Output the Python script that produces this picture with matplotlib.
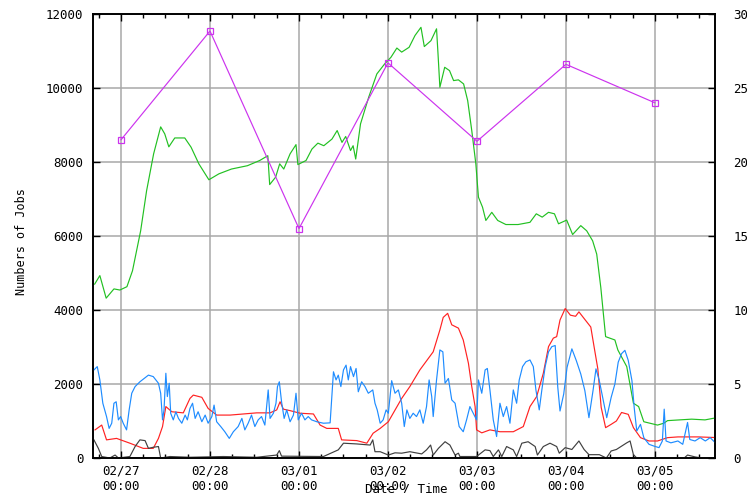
"""
Job counts over one week: four job-state series plus a daily total on a second axis.
"""
import matplotlib
matplotlib.use("Agg")
import matplotlib.pyplot as plt
from matplotlib.ticker import MultipleLocator

# hours since 02/27 00:00 and number of jobs
green_h = [-7.1, -5.7, -4.0, -1.9, -0.3, 1.6, 3.1, 5.3, 6.9, 8.8, 10.7, 11.8, 12.9, 14.5, 17.2,
           18.9, 21.0, 23.7, 26.4, 29.8, 34.1, 37.4, 39.6, 40.1, 41.7, 42.8, 43.9, 45.6, 47.2,
           47.7, 49.9, 51.5, 53.1, 54.7, 56.9, 58.3, 59.6, 60.6, 61.9, 62.6, 63.3, 64.6, 66.8,
           69.0, 71.1, 72.8, 74.4, 75.7, 77.7, 79.3, 80.9, 81.8, 83.6, 85.1, 85.5, 86.0, 87.3,
           88.6, 89.7, 91.0, 92.4, 93.5, 94.6, 95.7, 96.4, 97.5, 98.4, 100.0, 101.6, 103.8,
           107.1, 110.3, 112.0, 113.6, 115.3, 116.9, 118.0, 120.2, 121.8, 124.0, 125.6, 127.2,
           128.3, 129.4, 130.7, 133.2, 134.0, 136.4, 138.2, 139.6, 141.0, 144.7, 146.4, 147.4,
           153.9, 157.5, 161.2]
green_v = [4700, 4930, 4320, 4570, 4540, 4630, 5060, 6140, 7220, 8220, 8950, 8760, 8410, 8650, 8650,
           8400, 7950, 7520, 7680, 7810, 7900, 8040, 8170, 7390, 7590, 7950, 7810, 8220, 8470,
           7930, 8040, 8350, 8510, 8440, 8620, 8850, 8530, 8690, 8310, 8440, 8080, 9030, 9750,
           10380, 10650, 10830, 11080, 10970, 11100, 11420, 11640, 11120, 11280, 11600, 10920, 10020, 10560,
           10470, 10200, 10220, 10110, 9660, 8850, 7950, 7050, 6780, 6420, 6640, 6420, 6310,
           6310, 6370, 6600, 6510, 6640, 6600, 6330, 6430, 6040, 6280, 6140, 5870,
           5510, 4610, 3280, 3190, 2920, 2470, 1480, 1390, 980, 890, 940, 1010,
           1050, 1030, 1100]

red_h = [-7.0, -5.2, -3.9, -1.2, 2.4, 6.0, 8.7, 10.1, 11.2, 12.1, 13.7, 16.8, 18.6, 19.5, 21.8,
         23.5, 25.8, 29.4, 33.0, 36.6, 40.2, 42.0, 42.9, 43.8, 45.6, 48.3, 51.9, 53.7, 55.5,
         58.6, 59.5, 63.6, 66.3, 68.0, 69.9, 72.1, 75.7, 77.9, 80.6, 84.2, 86.0, 86.9, 88.1,
         89.2, 91.0, 92.3, 93.7, 94.6, 95.5, 95.9, 97.3, 99.5, 102.2, 105.8, 108.5, 110.3,
         112.1, 113.9, 115.3, 116.6, 117.5, 118.4, 119.8, 121.2, 122.6, 123.5, 124.9, 126.7,
         127.6, 128.6, 129.5, 130.7, 132.2, 133.6, 135.0, 136.8, 138.2, 140.1, 142.4, 144.7,
         147.4, 150.2, 155.7, 161.2]
red_v = [760, 890, 490, 530, 400, 260, 260, 530, 850, 1390, 1250, 1220, 1610, 1700, 1640,
         1340, 1160, 1160, 1190, 1220, 1220, 1300, 1520, 1320, 1280, 1210, 1190, 890, 800,
         800, 490, 470, 400, 670, 800, 980, 1610, 1930, 2380, 2870, 3460, 3800, 3910,
         3600, 3510, 3190, 2560, 1930, 1390, 760, 680, 760, 710, 710, 850, 1390,
         1660, 2290, 3010, 3240, 3280, 3730, 4040, 3860, 3830, 3950, 3770, 3540,
         3000, 2410, 1370, 820, 910, 1000, 1230, 1180, 820, 550, 460, 460,
         550, 570, 570, 550]

blue_h = [-7.3, -6.4, -5.7, -4.9, -3.9, -3.2, -2.5, -1.9, -1.3, -0.7, -0.1, 0.6, 1.5, 2.2, 2.9,
          3.8, 5.1, 7.4, 8.7, 10.1, 10.7, 11.2, 11.6, 12.1, 12.5, 13.0, 13.4, 14.1, 14.8, 15.5,
          16.4, 17.3, 17.9, 18.6, 19.3, 20.0, 20.8, 21.8, 22.7, 23.5, 24.5, 25.1, 25.8, 26.9,
          28.0, 29.2, 30.3, 31.6, 32.6, 33.4, 34.3, 35.2, 36.1, 37.0, 37.9, 38.8, 39.7, 40.2,
          41.1, 41.8, 42.2, 42.7, 43.3, 44.0, 44.7, 45.6, 46.5, 47.2, 47.8, 48.7, 49.6, 50.5,
          51.4, 52.8, 54.6, 56.4, 56.8, 57.3, 58.0, 58.6, 59.3, 60.0, 60.7, 61.3, 61.9, 62.7,
          63.4, 64.0, 64.9, 65.8, 66.7, 67.9, 68.5, 69.1, 69.9, 70.7, 71.5, 72.1, 73.0, 73.9,
          74.8, 75.7, 76.4, 77.1, 77.9, 78.8, 79.7, 80.6, 81.5, 82.4, 83.1, 83.8, 84.2, 85.1,
          86.0, 86.8, 87.4, 88.3, 89.2, 90.1, 91.2, 92.3, 93.2, 94.1, 95.0, 95.9, 96.4, 97.3,
          98.2, 98.8, 99.5, 100.4, 101.3, 102.2, 103.1, 104.0, 104.9, 105.8, 106.7, 107.4,
          108.3, 109.2, 110.3, 111.2, 111.9, 112.8, 113.5, 114.4, 115.3, 116.2, 117.1, 117.8,
          118.4, 119.4, 120.3, 121.6, 122.8, 124.0, 125.1, 126.2, 127.3, 128.1, 129.0, 129.9,
          131.0, 132.2, 133.2, 134.1, 135.0, 135.9, 136.8, 137.8, 138.4, 139.1, 140.1, 141.0,
          142.4, 143.8, 145.1, 146.0, 146.5, 147.0, 148.3, 150.2, 151.5, 152.8, 153.4, 154.8,
          156.2, 157.6, 158.9, 159.8, 160.7]
blue_v = [2380, 2470, 2110, 1480, 1120, 800, 940, 1480, 1520, 1030, 1120, 940, 760, 1300, 1750,
          1930, 2060, 2240, 2200, 2020, 1750, 1030, 1300, 2290, 1660, 2020, 1210, 1030, 1250, 1070,
          940, 1160, 1030, 1340, 1480, 1070, 1250, 980, 1160, 940, 1120, 1430, 980, 850,
          710, 530, 710, 850, 1070, 760, 940, 1160, 850, 1030, 1120, 890, 1840, 1070,
          1210, 1480, 1930, 2060, 1520, 1070, 1300, 980, 1160, 1750, 1030, 1210, 1030, 1120,
          1030, 980, 940, 950, 1570, 2330, 2110, 2240, 1930, 2380, 2510, 2110, 2470, 2200,
          2420, 1790, 2060, 1930, 1750, 1840, 1480, 1300, 940, 1030, 1300, 1210, 2090, 1750,
          1840, 1480, 850, 1300, 1070, 1210, 1120, 1300, 940, 1390, 2110, 1660, 1120, 2110,
          2920, 2870, 2020, 2150, 1570, 1480, 850, 710, 1030, 1390, 1210, 1030, 2110, 1750,
          2380, 2420, 1840, 1030, 580, 1480, 1120, 1390, 940, 1840, 1480, 2110,
          2470, 2600, 2650, 2470, 1840, 1300, 1840, 2470, 2870, 3010, 3040, 1910,
          1270, 1730, 2450, 2950, 2630, 2270, 1820, 1090, 1820, 2410, 2090, 1640,
          1090, 1640, 2000, 2590, 2820, 2910, 2640, 2090, 1370, 730, 910, 550,
          370, 320, 280, 460, 1320, 460, 410, 460, 370, 960, 500, 460,
          550, 460, 550, 460, 370]

black_h = [-7.3, -6.1, -5.2, -3.0, -1.6, -0.7, 2.4, 3.8, 5.1, 6.5, 7.4, 8.7, 10.1, 10.7, 13.2,
           18.6, 27.6, 36.6, 42.0, 42.7, 43.3, 54.6, 58.6, 60.0, 63.6, 67.2, 67.9, 68.5, 69.9,
           72.1, 73.9, 75.7, 77.9, 81.1, 82.4, 83.5, 84.2, 85.6, 87.4, 88.7, 90.1, 91.0, 91.4,
           95.9, 98.2, 99.5, 100.4, 101.8, 102.7, 104.0, 105.8, 106.7, 108.1, 109.8, 111.7,
           112.3, 113.9, 115.7, 117.5, 118.2, 119.8, 121.6, 123.5, 124.9, 126.2, 129.0, 130.9,
           132.2, 133.6, 136.4, 137.3, 138.2, 139.1, 151.9, 152.8, 154.8, 156.6, 161.2]
black_v = [490, 260, 40, 0, 80, 0, 40, 310, 490, 470, 260, 290, 310, 0, 40,
           20, 40, 20, 80, 200, 50, 40, 220, 400, 380, 350, 490, 170, 170,
           80, 140, 130, 170, 110, 220, 350, 80, 260, 440, 350, 80, 130, 40,
           40, 220, 200, 40, 220, 40, 310, 220, 40, 400, 440, 310,
           80, 310, 400, 310, 130, 280, 230, 460, 230, 90, 90, 0,
           190, 230, 410, 460, 90, 0, 0, 80, 30, 0, 0]

# daily points, right axis
daily_h = [0, 24, 48, 72, 96, 120, 144]
daily_v = [21.5, 28.85, 15.5, 26.7, 21.4, 26.6, 24.0]

day_labels = ["02/27\n00:00", "02/28\n00:00", "03/01\n00:00", "03/02\n00:00",
              "03/03\n00:00", "03/04\n00:00", "03/05\n00:00"]

plt.rcParams["font.family"] = ["DejaVu Sans Mono"]
plt.rcParams["font.size"] = 9

fig = plt.figure(figsize=(7.47, 4.93), dpi=100)
ax = fig.add_axes([93 / 747, 1 - 458 / 493, 622 / 747, 444 / 493])
ax2 = ax.twinx()

lw = 0.85
ax.plot(green_h, green_v, color="#22c022", lw=lw, zorder=3)
ax.plot(red_h, red_v, color="#ff2222", lw=lw, zorder=3)
ax.plot(blue_h, blue_v, color="#1e8cff", lw=lw, zorder=4)
ax.plot(black_h, black_v, color="#404040", lw=lw, zorder=3)
ax2.plot(daily_h, daily_v, color="#cc33ee", lw=lw, marker="s", ms=5,
         mfc="none", mec="#cc33ee", mew=0.9)

ax.set_xlim(-7.55, 160.2)
ax.set_ylim(0, 12000)
ax2.set_ylim(0, 30)

ax.set_xticks(daily_h)
ax.set_xticklabels(day_labels, linespacing=1.25)
ax.xaxis.set_minor_locator(MultipleLocator(6))
ax.yaxis.set_major_locator(MultipleLocator(2000))
ax2.yaxis.set_major_locator(MultipleLocator(5))

ax.grid(True, which="major", color="#a8a8a8", lw=1.1)
ax.set_axisbelow(True)

ax.tick_params(axis="both", which="major", direction="in", length=5, width=1,
               top=True, right=False, pad=7)
ax.tick_params(axis="x", which="major", pad=5)
ax.tick_params(axis="x", which="minor", direction="in", length=3, width=1, top=True)
ax2.tick_params(axis="y", direction="in", length=5, width=1, pad=13)

for a in (ax, ax2):
    for s in a.spines.values():
        s.set_linewidth(1.2)
        s.set_color("black")

fig.text(22 / 747, 1 - 242 / 493, "Numbers of Jobs", rotation=90,
         ha="center", va="center", fontsize=8.5)
fig.text(406 / 747, 1 - 489 / 493, "Date / Time", ha="center", va="center", fontsize=9)

fig.savefig("out.png", dpi=100)
